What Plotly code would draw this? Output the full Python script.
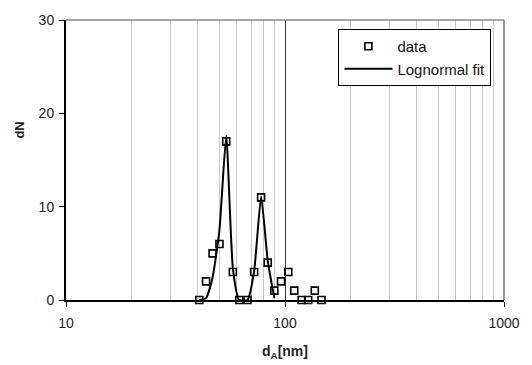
import plotly.graph_objects as go

# Data
d_data = [40.6, 43.6, 46.7, 50.2, 53.9, 57.8, 61.8, 67.4, 72.3, 77.8, 83.4, 89.4,
          95.9, 103.5, 110.2, 119.1, 127.6, 136.8, 146.8]
dN_data = [0, 2, 5, 6, 17, 3, 0, 0, 3, 11, 4, 1, 2, 3, 1, 0, 0, 1, 0]

d_fit = [40.6, 43.6, 46.7, 50.2, 53.9, 57.8, 61.8, 67.4, 72.3, 77.8, 83.4, 89.4]
dN_fit = [0, 0.2, 2.4, 7.5, 17.6, 3.4, 0, 0, 3.1, 11.1, 4.2, 0.2]

x_major = [10, 100, 1000]
x_minor = [20, 30, 40, 50, 60, 70, 80, 90, 200, 300, 400, 500, 600, 700, 800, 900]
y_ticks = [0, 10, 20, 30]

FONT = "Arial, Liberation Sans, sans-serif"

fig = go.Figure()
fig.add_trace(go.Scatter(
    x=d_data, y=dN_data, mode="markers", name="data", legendgroup="a",
    marker=dict(symbol="square-open", size=7, color="black", line=dict(width=1.6, color="black")),
    cliponaxis=False,
))
fig.add_trace(go.Scatter(
    x=d_fit, y=dN_fit, mode="lines", name="Lognormal fit", legendgroup="b",
    line=dict(color="black", width=2, shape="spline", smoothing=0.5),
))

fig.update_layout(
    width=532, height=365,
    margin=dict(l=66, r=25, t=14, b=65),
    paper_bgcolor="white", plot_bgcolor="white",
    font=dict(family=FONT, color="#222", size=14),
    showlegend=True,
    legend=dict(
        x=0.622, y=0.968, xanchor="left", yanchor="top",
        bgcolor="white", bordercolor="black", borderwidth=1,
        font=dict(size=15, color="#111", family=FONT),
        tracegroupgap=0, itemwidth=48,
    ),
    xaxis=dict(
        type="log", range=[1, 3],
        tickvals=x_major, ticktext=["10", "100", "1000"],
        ticks="outside", ticklen=5, tickcolor="black",
        showgrid=True, gridcolor="#333", gridwidth=1,
        minor=dict(tickvals=x_minor, showgrid=True, gridcolor="#c8c8c8", gridwidth=1, ticks=""),
        showline=True, linecolor="black", linewidth=2,
        ticklabelstandoff=4,
        zeroline=False,
    ),
    yaxis=dict(
        range=[0, 30], tickvals=y_ticks,
        ticks="outside", ticklen=5, tickcolor="black",
        showgrid=False, showline=True, linecolor="black", linewidth=2,
        zeroline=False, ticklabelstandoff=2,
    ),
    shapes=[
        dict(type="line", xref="x domain", yref="y domain", x0=0, x1=1, y0=1, y1=1,
             line=dict(color="#888", width=1.5), layer="above"),
        dict(type="line", xref="x domain", yref="y domain", x0=1, x1=1, y0=0, y1=1,
             line=dict(color="#777", width=1.5), layer="above"),
    ],
    annotations=[
        dict(text="<b>d<sub>A</sub>[nm]</b>", xref="paper", yref="paper", x=0.5, y=-0.145,
             xanchor="center", yanchor="top", showarrow=False, font=dict(size=14, color="#222")),
        dict(text="<b>dN</b>", xref="paper", y=0.605, yref="paper", x=-0.105,
             xanchor="center", yanchor="middle", textangle=-90, showarrow=False,
             font=dict(size=13, color="#222")),
    ],
)

fig.write_html(
    "out.html",
    config={"displayModeBar": False},
    post_script="document.body.style.margin='0';document.body.style.padding='0';"
                "document.documentElement.style.overflow='hidden';",
)
